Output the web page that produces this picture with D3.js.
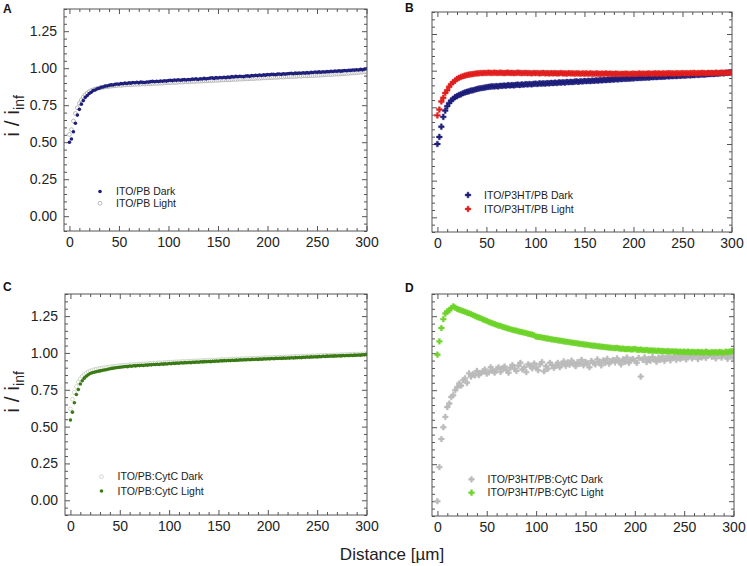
<!DOCTYPE html>
<html><head><meta charset="utf-8">
<script src="https://cdn.jsdelivr.net/npm/d3@7"></script>
<style>
html,body{margin:0;padding:0;background:#fff;}
svg{display:block;font-family:"Liberation Sans",Arial,sans-serif;}
</style></head><body>
<svg id="chart" width="747" height="566"></svg>
<script>
// ---------------- DATA ----------------
const distance = [0,2,4,6,8,10,12,14,16,18,20,22,24,26,28,30,32,34,36,38,40,42,44,46,48,50,52,54,56,58,60,62,64,66,68,70,72,74,76,78,80,82,84,86,88,90,92,94,96,98,100,102,104,106,108,110,112,114,116,118,120,122,124,126,128,130,132,134,136,138,140,142,144,146,148,150,152,154,156,158,160,162,164,166,168,170,172,174,176,178,180,182,184,186,188,190,192,194,196,198,200,202,204,206,208,210,212,214,216,218,220,222,224,226,228,230,232,234,236,238,240,242,244,246,248,250,252,254,256,258,260,262,264,266,268,270,272,274,276,278,280,282,284,286,288,290,292,294,296,298,300];
const xTicks = [0,50,100,150,200,250,300];
const yTicks = [0,0.25,0.5,0.75,1.0,1.25];

const aDark = [.500,.522,.571,.628,.683,.722,.757,.781,.803,.816,
.829,.838,.849,.853,.861,.865,.871,.873,.879,.880,
.884,.887,.886,.891,.893,.892,.896,.895,.899,.897,
.901,.899,.903,.902,.905,.901,.906,.904,.903,.907,
.906,.909,.911,.908,.912,.910,.914,.912,.915,.913,
.917,.919,.916,.920,.918,.922,.919,.921,.923,.920,
.924,.922,.926,.925,.928,.924,.929,.927,.931,.928,
.930,.933,.935,.931,.936,.934,.937,.935,.939,.936,
.940,.938,.943,.941,.945,.942,.946,.944,.943,.947,
.948,.945,.950,.949,.952,.950,.954,.951,.955,.953,
.957,.955,.959,.958,.956,.960,.961,.958,.962,.960,
.962,.964,.966,.963,.967,.965,.968,.966,.969,.967,
.970,.968,.972,.971,.974,.972,.975,.973,.976,.974,
.977,.976,.979,.978,.981,.979,.983,.980,.982,.984,
.983,.986,.985,.988,.987,.990,.988,.992,.989,.994,
.996];
const aLight = [.552,.585,.643,.694,.733,.762,.786,.806,.821,.833,
.842,.849,.854,.859,.863,.866,.869,.871,.874,.875,
.877,.879,.880,.882,.883,.885,.884,.886,.887,.888,
.889,.888,.890,.891,.892,.891,.893,.894,.893,.895,
.896,.895,.897,.898,.897,.899,.900,.899,.901,.902,
.903,.902,.904,.905,.904,.906,.907,.906,.908,.909,
.908,.910,.911,.910,.912,.913,.912,.914,.915,.914,
.916,.917,.916,.918,.919,.918,.920,.921,.920,.922,
.923,.922,.924,.925,.924,.926,.927,.926,.928,.929,
.928,.930,.931,.930,.932,.933,.932,.934,.935,.934,
.936,.937,.936,.938,.939,.938,.940,.941,.940,.942,
.943,.942,.944,.945,.944,.946,.947,.946,.948,.949,
.948,.950,.951,.950,.952,.953,.952,.954,.955,.956,
.957,.958,.957,.959,.960,.961,.960,.962,.963,.964,
.965,.966,.967,.968,.969,.970,.972,.973,.974,.975,
.977];
const bDark = [.500,.548,.618,.685,.728,.758,.779,.796,.808,.819,
.826,.834,.839,.846,.851,.856,.859,.864,.866,.870,
.874,.877,.880,.882,.884,.887,.889,.891,.893,.892,
.895,.893,.897,.896,.899,.897,.901,.899,.902,.900,
.903,.905,.902,.906,.904,.908,.906,.909,.907,.910,
.911,.909,.913,.911,.914,.912,.915,.914,.917,.915,
.918,.916,.920,.918,.921,.919,.923,.921,.924,.922,
.925,.927,.924,.928,.926,.930,.928,.931,.929,.932,
.931,.934,.932,.935,.934,.937,.935,.938,.937,.940,
.939,.942,.940,.943,.942,.945,.944,.946,.945,.948,
.947,.950,.949,.951,.950,.953,.952,.954,.953,.956,
.955,.957,.956,.959,.958,.960,.959,.962,.961,.963,
.962,.964,.963,.966,.965,.967,.966,.968,.969,.968,
.970,.969,.972,.971,.973,.974,.973,.975,.976,.977,
.978,.977,.980,.979,.981,.983,.982,.985,.986,.988,
.990];
const bLight = [.695,.735,.790,.815,.848,.866,.890,.908,.921,.932,
.944,.951,.957,.962,.966,.970,.973,.975,.977,.979,
.981,.982,.984,.983,.985,.984,.986,.985,.984,.986,
.985,.984,.986,.985,.983,.985,.986,.984,.985,.983,
.984,.986,.985,.983,.984,.985,.983,.984,.982,.984,
.983,.984,.982,.983,.985,.982,.983,.981,.983,.982,
.983,.981,.982,.984,.981,.982,.980,.983,.981,.982,
.980,.982,.981,.979,.982,.980,.981,.979,.981,.980,
.979,.981,.980,.978,.980,.979,.981,.978,.980,.979,
.978,.980,.979,.977,.979,.978,.980,.979,.977,.979,
.980,.978,.979,.981,.979,.980,.978,.980,.981,.979,
.980,.982,.980,.981,.979,.982,.980,.981,.983,.981,
.982,.980,.983,.981,.982,.984,.982,.983,.981,.984,
.983,.985,.982,.984,.983,.985,.984,.982,.985,.984,
.985,.983,.986,.984,.985,.987,.985,.986,.984,.987,
.986];
const cDark = [.620,.685,.733,.772,.802,.824,.841,.854,.863,.871,
.877,.882,.886,.889,.892,.895,.897,.899,.901,.903,
.905,.907,.909,.910,.912,.914,.915,.916,.918,.917,
.920,.919,.921,.922,.924,.923,.925,.926,.927,.926,
.928,.929,.931,.930,.932,.933,.932,.934,.935,.936,
.937,.936,.938,.939,.940,.939,.941,.942,.941,.943,
.944,.943,.945,.946,.945,.947,.948,.947,.949,.950,
.949,.951,.952,.951,.953,.952,.954,.955,.954,.956,
.955,.957,.958,.957,.959,.958,.960,.961,.960,.962,
.961,.963,.962,.964,.965,.964,.966,.965,.967,.968,
.967,.969,.968,.970,.969,.971,.972,.971,.973,.972,
.974,.973,.975,.976,.975,.977,.976,.978,.977,.979,
.978,.980,.979,.981,.980,.982,.981,.983,.982,.984,
.983,.985,.984,.986,.985,.987,.986,.988,.987,.989,
.988,.990,.989,.991,.990,.992,.991,.993,.992,.994,
.995];
const cLight = [.545,.598,.662,.718,.752,.789,.811,.829,.842,.852,
.860,.865,.869,.872,.876,.878,.881,.884,.886,.889,
.893,.895,.897,.899,.901,.903,.905,.906,.908,.907,
.911,.910,.913,.912,.915,.914,.916,.915,.918,.917,
.920,.919,.922,.921,.923,.922,.925,.924,.926,.925,
.928,.927,.930,.929,.931,.930,.933,.932,.934,.933,
.935,.934,.937,.936,.938,.937,.940,.939,.941,.940,
.942,.941,.944,.943,.945,.944,.947,.946,.948,.947,
.949,.948,.950,.949,.951,.950,.953,.952,.954,.953,
.955,.954,.956,.955,.957,.956,.958,.957,.960,.959,
.961,.960,.962,.961,.963,.962,.964,.963,.965,.964,
.966,.965,.967,.966,.968,.967,.969,.968,.971,.970,
.972,.971,.973,.972,.974,.973,.975,.974,.977,.976,
.978,.977,.979,.978,.980,.979,.981,.980,.982,.981,
.983,.982,.984,.983,.985,.984,.986,.985,.988,.987,
.990];
const dDark = [.000,.230,.420,.500,.570,.636,.660,.704,.716,.750,
.770,.795,.780,.818,.830,.800,.864,.842,.858,.850,
.880,.852,.866,.875,.890,.862,.871,.905,.880,.868,
.892,.905,.874,.898,.910,.885,.868,.902,.920,.895,
.880,.915,.935,.890,.905,.872,.925,.915,.898,.930,
.905,.885,.925,.940,.878,.912,.895,.935,.920,.900,
.918,.935,.905,.928,.945,.915,.938,.922,.950,.930,
.912,.940,.928,.955,.918,.942,.930,.905,.948,.935,
.925,.958,.940,.918,.952,.935,.962,.930,.945,.955,
.938,.965,.948,.925,.958,.942,.970,.935,.955,.962,
.948,.935,.968,.842,.955,.972,.940,.962,.950,.975,
.958,.942,.970,.955,.978,.948,.965,.980,.952,.968,
.975,.955,.985,.962,.970,.988,.958,.975,.990,.965,
.978,.995,.960,.985,.972,.992,.968,.985,.995,.975,
.988,.965,.995,.980,.970,.998,.985,.962,.990,.978,
.972];
const dLight = [.990,1.080,1.170,1.230,1.268,1.282,1.290,1.305,1.316,1.308,
1.300,1.294,1.290,1.284,1.280,1.274,1.270,1.264,1.258,1.252,
1.246,1.240,1.236,1.228,1.224,1.218,1.212,1.206,1.202,1.196,
1.192,1.186,1.184,1.178,1.175,1.170,1.166,1.162,1.158,1.155,
1.152,1.148,1.145,1.142,1.138,1.136,1.131,1.128,1.126,1.120,
1.112,1.110,1.108,1.106,1.103,1.100,1.099,1.096,1.094,1.091,
1.090,1.087,1.085,1.083,1.080,1.078,1.077,1.074,1.072,1.070,
1.068,1.066,1.063,1.062,1.060,1.058,1.057,1.054,1.052,1.051,
1.050,1.047,1.046,1.044,1.043,1.041,1.040,1.038,1.037,1.035,
1.034,1.036,1.032,1.030,1.031,1.028,1.027,1.029,1.025,1.026,
1.030,1.024,1.022,1.025,1.021,1.020,1.022,1.018,1.019,1.017,
1.018,1.015,1.017,1.014,1.016,1.013,1.012,1.015,1.011,1.013,
1.010,1.012,1.009,1.011,1.008,1.010,1.007,1.011,1.006,1.009,
1.008,1.005,1.009,1.006,1.008,1.004,1.010,1.006,1.003,1.007,
1.005,1.008,1.004,1.009,1.006,1.003,1.010,1.007,1.011,1.013,
1.015];

// ---------------- LAYOUT ----------------
const svg = d3.select('#chart');
const xDomain = [-5.5, 300.5], yDomain = [-0.1, 1.4];
const panels = [
  {letter:'A', lx:3, ly:13, box:{x:64,y:9,w:303,h:222}, yLabels:true,
   legend:{x:100, y:191.5, dy:11.8},
   draw:[{name:'ITO/PB Light', v:aLight, st:'open', c:'#aaaaaa'},
         {name:'ITO/PB Dark', v:aDark, st:'dot', c:'#1f1f7c'}],
   leg:[1,0]},
  {letter:'B', lx:405, ly:12, box:{x:432,y:12,w:300,h:220}, yLabels:false,
   legend:{x:468, y:195, dy:14},
   draw:[{name:'ITO/P3HT/PB Dark', v:bDark, st:'cross', c:'#1f1f7c'},
         {name:'ITO/P3HT/PB Light', v:bLight, st:'cross', c:'#e0201e'}],
   leg:[0,1]},
  {letter:'C', lx:3, ly:291, box:{x:65,y:294,w:302,h:221}, yLabels:true,
   legend:{x:101.5, y:476.7, dy:14.3},
   draw:[{name:'ITO/PB:CytC Dark', v:cDark, st:'open', c:'#c4cfbf'},
         {name:'ITO/PB:CytC Light', v:cLight, st:'dot', c:'#3a7a14'}],
   leg:[0,1]},
  {letter:'D', lx:405, ly:292, box:{x:432,y:294,w:302,h:222}, yLabels:false,
   legend:{x:471.5, y:479.3, dy:13.4},
   draw:[{name:'ITO/P3HT/PB:CytC Dark', v:dDark, st:'cross', c:'#bbbbbb'},
         {name:'ITO/P3HT/PB:CytC Light', v:dLight, st:'cross', c:'#6fd42a'}],
   leg:[0,1]}
];

const xMinor = d3.range(0, 301, 10).filter(d => d % 50 !== 0);
const yMinor = d3.range(-10, 141, 5).map(d => d/100).filter(d => Math.round(d*100) % 25 !== 0);
const crossSym = d3.symbol().type(d3.symbolCross).size(18);

function drawMarker(g, st, c, x, y) {
  if (st === 'open') {
    g.append('circle').attr('cx', x).attr('cy', y).attr('r', 1.9)
      .attr('fill', '#fff').attr('stroke', c).attr('stroke-width', 0.8);
  } else if (st === 'dot') {
    g.append('circle').attr('cx', x).attr('cy', y).attr('r', 1.8).attr('fill', c);
  } else {
    g.append('path').attr('d', crossSym()).attr('transform', `translate(${x},${y})`)
      .attr('fill', c).attr('stroke', c).attr('stroke-width', 0.4);
  }
}

panels.forEach((p, pi) => {
  const b = p.box;
  const x = d3.scaleLinear().domain(xDomain).range([b.x, b.x + b.w]);
  const y = d3.scaleLinear().domain(yDomain).range([b.y + b.h, b.y]);
  const g = svg.append('g');

  const cid = 'clip' + pi;
  svg.append('clipPath').attr('id', cid).append('rect')
    .attr('x', b.x).attr('y', b.y).attr('width', b.w).attr('height', b.h);

  const styleAxis = sel => {
    sel.select('.domain').remove();
    sel.selectAll('line').attr('stroke', '#555').attr('stroke-width', 1);
    sel.selectAll('text').attr('fill', '#222').style('font-size', '14px')
      .style('font-family', '"Liberation Sans", Arial, sans-serif');
  };
  g.append('g').attr('transform', `translate(0,${b.y + b.h})`)
    .call(d3.axisBottom(x).tickValues(xTicks).tickSize(-5).tickPadding(6).tickFormat(d3.format('d'))).call(styleAxis);
  g.append('g').attr('transform', `translate(0,${b.y + b.h})`)
    .call(d3.axisBottom(x).tickValues(xMinor).tickSize(-3).tickFormat('')).call(styleAxis);
  g.append('g').attr('transform', `translate(0,${b.y})`)
    .call(d3.axisTop(x).tickValues(xTicks).tickSize(-5).tickFormat('')).call(styleAxis);
  g.append('g').attr('transform', `translate(0,${b.y})`)
    .call(d3.axisTop(x).tickValues(xMinor).tickSize(-3).tickFormat('')).call(styleAxis);
  g.append('g').attr('transform', `translate(${b.x},0)`)
    .call(d3.axisLeft(y).tickValues(yTicks).tickSize(-5).tickPadding(7)
      .tickFormat(p.yLabels ? d3.format('.2f') : '')).call(styleAxis);
  g.append('g').attr('transform', `translate(${b.x},0)`)
    .call(d3.axisLeft(y).tickValues(yMinor).tickSize(-3).tickFormat('')).call(styleAxis);
  g.append('g').attr('transform', `translate(${b.x + b.w},0)`)
    .call(d3.axisRight(y).tickValues(yTicks).tickSize(-5).tickFormat('')).call(styleAxis);
  g.append('g').attr('transform', `translate(${b.x + b.w},0)`)
    .call(d3.axisRight(y).tickValues(yMinor).tickSize(-3).tickFormat('')).call(styleAxis);

  const dg = g.append('g').attr('clip-path', `url(#${cid})`);
  p.draw.forEach(s => {
    const sg = dg.append('g');
    s.v.forEach((val, i) => drawMarker(sg, s.st, s.c, x(distance[i]), y(val)));
  });

  g.append('rect').attr('x', b.x).attr('y', b.y).attr('width', b.w).attr('height', b.h)
    .attr('fill', 'none').attr('stroke', '#555').attr('stroke-width', 1);

  p.leg.forEach((si, k) => {
    const s = p.draw[si];
    const ly = p.legend.y + k * p.legend.dy;
    drawMarker(g, s.st, s.c, p.legend.x, ly);
    g.append('text').attr('x', p.legend.x + 16).attr('y', ly + 3.6)
      .attr('fill', '#222').style('font-size', '10.5px').text(s.name);
  });

  svg.append('text').attr('x', p.lx).attr('y', p.ly).attr('fill', '#111')
    .style('font-size', '12px').style('font-weight', 'bold').text(p.letter);
});

[116, 392].forEach(cy => {
  const t = svg.append('text').attr('transform', `translate(19,${cy}) rotate(-90)`)
    .attr('text-anchor', 'middle').attr('fill', '#222').style('font-size', '21px');
  t.append('tspan').text('i / i');
  t.append('tspan').attr('dy', 5).style('font-size', '14px').text('inf');
});

svg.append('text').attr('x', 392).attr('y', 560).attr('text-anchor', 'middle')
  .attr('fill', '#222').style('font-size', '17px').text('Distance [µm]');
</script>
</body></html>
